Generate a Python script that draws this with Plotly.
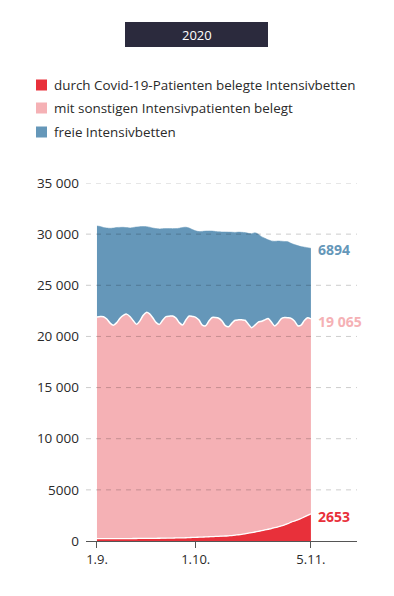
import pandas as pd
import plotly.graph_objects as go

dates = pd.date_range("2020-09-01", "2020-11-05", freq="D")

covid = [236, 232, 228, 230, 232, 235, 238, 240, 240, 238,
         240, 242, 245, 248, 250, 255, 258, 262, 266, 270,
         275, 280, 285, 290, 296, 302, 310, 320, 335, 350,
         362, 373, 385, 400, 415, 430, 445, 460, 475, 487,
         510, 535, 570, 610, 655, 700, 760, 820, 880, 943,
         1010, 1080, 1150, 1220, 1300, 1380, 1470, 1570, 1690, 1839,
         1950, 2061, 2200, 2350, 2500, 2653]

other = [21664, 21718, 21702, 21470, 21068, 20865, 21112, 21540, 21810, 21942,
         21710, 21308, 20935, 21252, 21800, 22095, 21942, 21538, 21084, 20910,
         21325, 21650, 21695, 21710, 21504, 21048, 20810, 21280, 21665, 21600,
         21508, 21227, 20715, 20650, 21085, 21420, 21405, 21320, 21025, 20563,
         20440, 20765, 21010, 21010, 20965, 20880, 20440, 20040, 20220, 20457,
         20470, 20540, 20610, 20180, 19730, 19920, 20280, 20270, 20130, 19921,
         19550, 18989, 18900, 19200, 19320, 19065]

free = [8900, 8800, 8720, 8900, 9270, 9500, 9300, 8880, 8620, 8460,
        8650, 9100, 9520, 9230, 8690, 8380, 8480, 8800, 9190, 9330,
        8930, 8610, 8560, 8530, 8740, 9230, 9530, 9080, 8600, 8500,
        8450, 8650, 9170, 9250, 8810, 8450, 8410, 8450, 8710, 9160,
        9250, 8890, 8590, 8580, 8560, 8570, 8880, 9190, 9040, 8600,
        8270, 7980, 7690, 7940, 8270, 8030, 7560, 7440, 7440, 7340,
        7480, 7830, 7680, 7180, 6860, 6894]

series_names = ["durch Covid-19-Patienten belegte Intensivbetten",
                "mit sonstigen Intensivpatienten belegt",
                "freie Intensivbetten"]
colors = ["#e8303a", "#f5b1b5", "#6597b9"]

y_ticks = [0, 5000, 10000, 15000, 20000, 25000, 30000, 35000]
y_ticktext = ["0", "5000", "10 000", "15 000", "20 000", "25 000", "30 000", "35 000"]
x_ticks = ["2020-09-01", "2020-10-01", "2020-11-05"]
x_ticktext = ["1.9.", "1.10.", "5.11."]
end_labels = ["2653", "19 065", "6894"]

FONT = "Open Sans"
TXT = "#2a2a2a"
OFF = 8  # page body margin offset
W, H = 394, 596
L, R, T, B = 86 - OFF, 37 + OFF, 183 - OFF, 55 + OFF
PW, PH = W - L - R, H - T - B

def px(x):
    return (x - OFF - L) / PW

def py(y):
    return (H - B - (y - OFF)) / PH

fig = go.Figure()
series = [covid, other, free]
line_cols = ["white", "white", colors[2]]
line_w = [1.3, 1.5, 0.5]
for vals, name, col, lc, lw in zip(series, series_names, colors, line_cols, line_w):
    fig.add_trace(go.Scatter(
        x=dates, y=vals, name=name, stackgroup="one", mode="lines",
        line=dict(color=lc, width=lw, shape="spline", smoothing=0.7),
        fillcolor=col, showlegend=False, hoverinfo="skip"))

shapes = []
for v in y_ticks[1:]:
    shapes.append(dict(type="line", xref="paper", yref="y", x0=0, x1=1, y0=v, y1=v,
                       line=dict(color="rgba(0,0,0,0.2)", width=1, dash="5px,5px"),
                       layer="above"))
shapes.append(dict(type="rect", xref="paper", yref="paper",
                   x0=px(125), x1=px(268), y0=py(47), y1=py(22),
                   fillcolor="#2b2a3d", line=dict(width=0)))
annotations = [dict(text="2020", x=px(196.5), y=py(34.5), xref="paper", yref="paper",
                    showarrow=False, font=dict(family=FONT, size=13, color="white"),
                    xanchor="center", yanchor="middle")]
for i, (name, col) in enumerate(zip(series_names, colors)):
    cy = [85, 108, 132][i]
    shapes.append(dict(type="rect", xref="paper", yref="paper",
                       x0=px(36), x1=px(47), y0=py(cy + 5.5), y1=py(cy - 5.5),
                       fillcolor=col, line=dict(width=0)))
    annotations.append(dict(text=name, x=px(52), y=py(cy), xref="paper", yref="paper",
                            showarrow=False, xanchor="left", yanchor="middle",
                            font=dict(family=FONT, size=13.4, color=TXT)))
end_pos = [516, 321, 249]
for lab, col, yp in zip(end_labels, colors, end_pos):
    annotations.append(dict(text="<b>" + lab + "</b>", x=px(316), y=py(yp),
                            xref="paper", yref="paper", showarrow=False,
                            xanchor="left", yanchor="middle",
                            font=dict(family=FONT, size=14, color=col)))

fig.update_layout(
    width=W, height=H, margin=dict(l=L, r=R, t=T, b=B),
    paper_bgcolor="white", plot_bgcolor="white",
    shapes=shapes, annotations=annotations, showlegend=False,
    font=dict(family=FONT, size=13, color=TXT),
)
fig.update_xaxes(
    range=["2020-08-28 16:00", "2020-11-19"],
    tickvals=x_ticks, ticktext=x_ticktext, showgrid=False,
    showline=True, linecolor="#555555", linewidth=1,
    ticks="outside", ticklen=6, tickcolor="#555555",
    tickfont=dict(family=FONT, size=13, color=TXT), zeroline=False,
    layer="above traces",
)
fig.update_yaxes(
    range=[0, 35000], tickvals=y_ticks, ticktext=y_ticktext,
    showgrid=False, zeroline=False, showline=False, ticks="",
    ticklabelstandoff=6,
    tickfont=dict(family=FONT, size=13.5, color=TXT),
)
fig.write_html("out.html")
